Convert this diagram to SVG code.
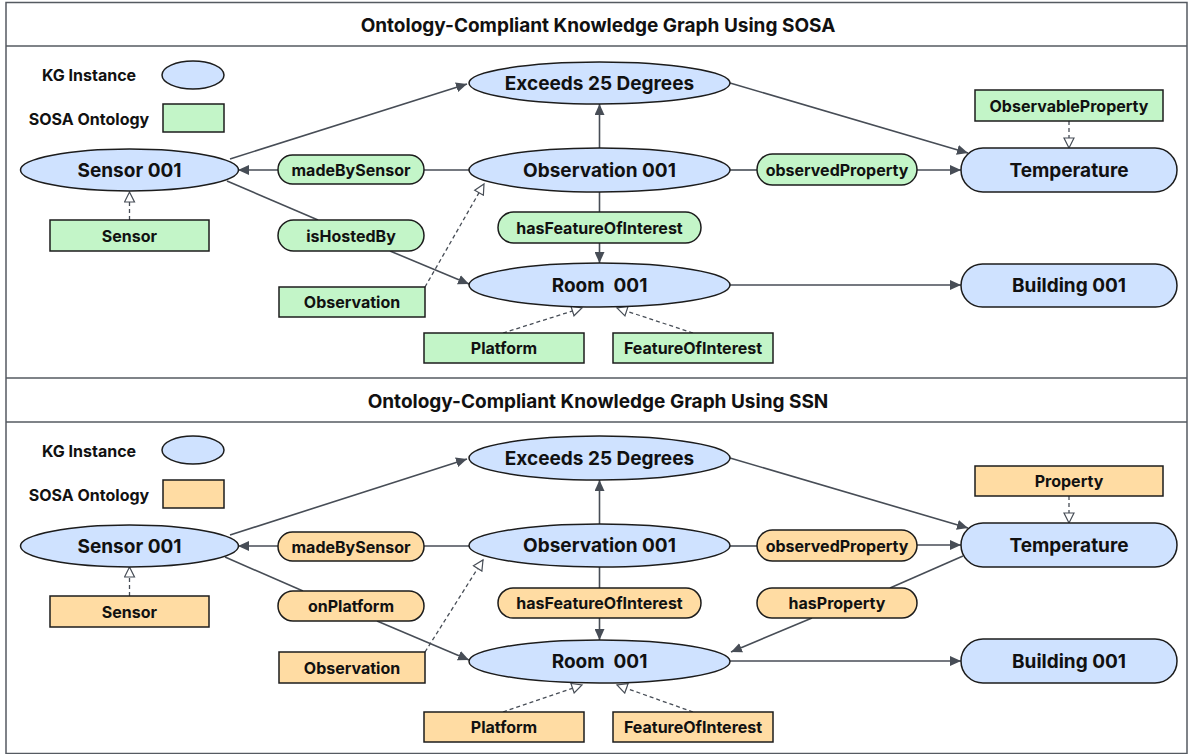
<svg xmlns="http://www.w3.org/2000/svg" width="1192" height="754" viewBox="0 0 1192 754">
<defs>
<style>
.frame{fill:none;stroke:#555a61;stroke-width:1.5}
.inst{fill:#cfe2ff;stroke:#1c1c1c;stroke-width:1.5}
.grn{fill:#c3f5c8;stroke:#1c1c1c;stroke-width:1.5}
.org{fill:#ffdca3;stroke:#1c1c1c;stroke-width:1.5}
.e{fill:none;stroke:#474d56;stroke-width:1.6}
.d{fill:none;stroke:#474d56;stroke-width:1.3;stroke-dasharray:4 3}
text{font-family:Inter,"Liberation Sans",sans-serif;font-weight:700;fill:#111;text-anchor:middle;dominant-baseline:central}
.t{font-size:19px}
.n{font-size:19px}
.s{font-size:16px}
.l{font-size:16px}
</style>
<marker id="a" markerUnits="userSpaceOnUse" markerWidth="12" markerHeight="10" refX="11" refY="5" orient="auto">
<path d="M0,0 L11,5 L0,10 Z" fill="#474d56"/>
</marker>
<marker id="h" markerUnits="userSpaceOnUse" markerWidth="13" markerHeight="12" refX="11" refY="6" orient="auto">
<path d="M1,1 L11,6 L1,11 Z" fill="#fff" stroke="#474d56" stroke-width="1.2"/>
</marker>
</defs>
<rect x="0" y="0" width="1192" height="754" fill="#fff"/>
<g id="frame">
<rect class="frame" x="6" y="2.5" width="1181" height="751"/>
<line class="frame" x1="6" y1="46" x2="1187" y2="46"/>
<line class="frame" x1="6" y1="378" x2="1187" y2="378"/>
<line class="frame" x1="6" y1="422" x2="1187" y2="422"/>
<text class="t" x="598" y="25">Ontology-Compliant Knowledge Graph Using SOSA</text>
<text class="t" x="598" y="401">Ontology-Compliant Knowledge Graph Using SSN</text>
</g>
<g id="connectors">
<path class="e" d="M230,159 L467,84" marker-end="url(#a)"/>
<path class="e" d="M469,170 L424,170"/>
<path class="e" d="M278,170 L238,170" marker-end="url(#a)"/>
<path class="e" d="M227,181 L318,220"/>
<path class="e" d="M390,251 L469,284" marker-end="url(#a)"/>
<path class="e" d="M599.5,148 L599.5,104" marker-end="url(#a)"/>
<path class="e" d="M599.5,192 L599.5,212"/>
<path class="e" d="M599.5,243 L599.5,263" marker-end="url(#a)"/>
<path class="e" d="M730,170 L757,170"/>
<path class="e" d="M917,170 L961,170" marker-end="url(#a)"/>
<path class="e" d="M730,83 L968,153" marker-end="url(#a)"/>
<path class="e" d="M730,285 L961,285" marker-end="url(#a)"/>
<path class="d" d="M129.5,220 L129.5,192" marker-end="url(#h)"/>
<path class="d" d="M425,287 L484,184" marker-end="url(#h)"/>
<path class="d" d="M503,333 L582,308" marker-end="url(#h)"/>
<path class="d" d="M693,333 L617,308" marker-end="url(#h)"/>
<path class="d" d="M1069,121 L1069,148" marker-end="url(#h)"/>

<path class="e" d="M230,535 L467,459" marker-end="url(#a)"/>
<path class="e" d="M469,546 L424,546"/>
<path class="e" d="M278,546 L238,546" marker-end="url(#a)"/>
<path class="e" d="M225,557 L303,591"/>
<path class="e" d="M377,621 L469,660" marker-end="url(#a)"/>
<path class="e" d="M599.5,524 L599.5,480" marker-end="url(#a)"/>
<path class="e" d="M599.5,567 L599.5,588"/>
<path class="e" d="M599.5,618 L599.5,640" marker-end="url(#a)"/>
<path class="e" d="M730,546 L757,546"/>
<path class="e" d="M917,545 L961,545" marker-end="url(#a)"/>
<path class="e" d="M730,458 L968,528" marker-end="url(#a)"/>
<path class="e" d="M730,661 L961,661" marker-end="url(#a)"/>
<path class="e" d="M963,556 L890,588"/>
<path class="e" d="M812,618 L731,652" marker-end="url(#a)"/>
<path class="d" d="M129.5,596 L129.5,567" marker-end="url(#h)"/>
<path class="d" d="M425,652 L483,560" marker-end="url(#h)"/>
<path class="d" d="M503,712 L582,685" marker-end="url(#h)"/>
<path class="d" d="M693,712 L617,685" marker-end="url(#h)"/>
<path class="d" d="M1069,496 L1069,523" marker-end="url(#h)"/>
</g>

<g id="legend-top">
<text class="l" x="89" y="75">KG Instance</text>
<ellipse class="inst" cx="193" cy="75" rx="31" ry="14"/>
<text class="l" x="89" y="119">SOSA Ontology</text>
<rect class="grn" x="163" y="104" width="61" height="28"/>
</g>
<g id="t-sensor001"><ellipse class="inst" cx="129.5" cy="170" rx="109" ry="21"/><text class="n" x="129.5" y="170">Sensor 001</text></g>
<g id="t-sensor"><rect class="grn" x="50" y="220" width="159" height="31"/><text class="s" x="129.5" y="235.5">Sensor</text></g>
<g id="t-madeBySensor"><rect class="grn" x="278" y="155" width="146" height="29" rx="14.5"/><text class="s" x="351" y="169.5">madeBySensor</text></g>
<g id="t-isHostedBy"><rect class="grn" x="278" y="220" width="146" height="31" rx="15.5"/><text class="s" x="351" y="235.5">isHostedBy</text></g>
<g id="t-observation"><rect class="grn" x="279" y="287" width="146" height="30"/><text class="s" x="352" y="302">Observation</text></g>
<g id="t-exceeds"><ellipse class="inst" cx="599.5" cy="83" rx="130.5" ry="21"/><text class="n" x="599.5" y="83">Exceeds 25 Degrees</text></g>
<g id="t-observation001"><ellipse class="inst" cx="599.5" cy="170" rx="130.5" ry="22"/><text class="n" x="599.5" y="170">Observation 001</text></g>
<g id="t-hasFOI"><rect class="grn" x="498" y="212" width="203" height="31" rx="15.5"/><text class="s" x="599.5" y="227.5">hasFeatureOfInterest</text></g>
<g id="t-room001"><ellipse class="inst" cx="599.5" cy="285" rx="130.5" ry="22"/><text class="n" x="599.5" y="285" xml:space="preserve">Room  001</text></g>
<g id="t-platform"><rect class="grn" x="424" y="333" width="160" height="30"/><text class="s" x="504" y="348">Platform</text></g>
<g id="t-foi"><rect class="grn" x="613" y="333" width="160" height="30"/><text class="s" x="693" y="348">FeatureOfInterest</text></g>
<g id="t-observedProperty"><rect class="grn" x="757" y="154" width="160" height="31" rx="15.5"/><text class="s" x="837" y="169.5">observedProperty</text></g>
<g id="t-observableProperty"><rect class="grn" x="975" y="90" width="188" height="31"/><text class="s" x="1069" y="105.5">ObservableProperty</text></g>
<g id="t-temperature"><rect class="inst" x="961" y="148" width="216" height="44" rx="22"/><text class="n" x="1069" y="170">Temperature</text></g>
<g id="t-building001"><rect class="inst" x="961" y="264" width="216" height="43" rx="21.5"/><text class="n" x="1069" y="285.5">Building 001</text></g>

<g id="legend-bottom">
<text class="l" x="89" y="451">KG Instance</text>
<ellipse class="inst" cx="193" cy="450" rx="31" ry="14"/>
<text class="l" x="89" y="495">SOSA Ontology</text>
<rect class="org" x="163" y="480" width="61" height="28"/>
</g>
<g id="b-sensor001"><ellipse class="inst" cx="129.5" cy="546" rx="109" ry="21"/><text class="n" x="129.5" y="546">Sensor 001</text></g>
<g id="b-sensor"><rect class="org" x="50" y="596" width="159" height="31"/><text class="s" x="129.5" y="611.5">Sensor</text></g>
<g id="b-madeBySensor"><rect class="org" x="278" y="532" width="146" height="29" rx="14.5"/><text class="s" x="351" y="546.5">madeBySensor</text></g>
<g id="b-onPlatform"><rect class="org" x="278" y="591" width="146" height="30" rx="15"/><text class="s" x="351" y="606">onPlatform</text></g>
<g id="b-observation"><rect class="org" x="279" y="652" width="146" height="31"/><text class="s" x="352" y="667.5">Observation</text></g>
<g id="b-exceeds"><ellipse class="inst" cx="599.5" cy="458" rx="130.5" ry="22"/><text class="n" x="599.5" y="458">Exceeds 25 Degrees</text></g>
<g id="b-observation001"><ellipse class="inst" cx="599.5" cy="545.5" rx="130.5" ry="21.5"/><text class="n" x="599.5" y="545.5">Observation 001</text></g>
<g id="b-hasFOI"><rect class="org" x="498" y="588" width="203" height="30" rx="15"/><text class="s" x="599.5" y="603">hasFeatureOfInterest</text></g>
<g id="b-room001"><ellipse class="inst" cx="599.5" cy="661.5" rx="130.5" ry="21.5"/><text class="n" x="599.5" y="661.5" xml:space="preserve">Room  001</text></g>
<g id="b-platform"><rect class="org" x="424" y="712" width="160" height="30"/><text class="s" x="504" y="727">Platform</text></g>
<g id="b-foi"><rect class="org" x="613" y="712" width="160" height="30"/><text class="s" x="693" y="727">FeatureOfInterest</text></g>
<g id="b-observedProperty"><rect class="org" x="757" y="530" width="160" height="31" rx="15.5"/><text class="s" x="837" y="545.5">observedProperty</text></g>
<g id="b-hasProperty"><rect class="org" x="757" y="588" width="160" height="30" rx="15"/><text class="s" x="837" y="603">hasProperty</text></g>
<g id="b-property"><rect class="org" x="975" y="466" width="188" height="30"/><text class="s" x="1069" y="481">Property</text></g>
<g id="b-temperature"><rect class="inst" x="961" y="523" width="216" height="44" rx="22"/><text class="n" x="1069" y="545">Temperature</text></g>
<g id="b-building001"><rect class="inst" x="961" y="639" width="216" height="44" rx="22"/><text class="n" x="1069" y="661">Building 001</text></g>
</svg>
